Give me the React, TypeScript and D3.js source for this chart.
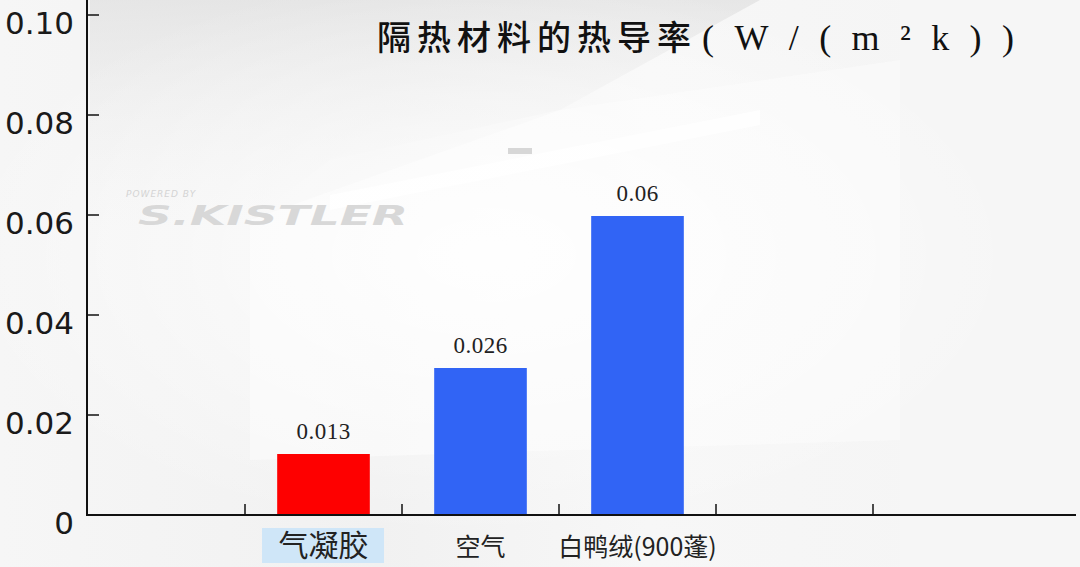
import React from "react";
import * as d3 from "d3";

const categories = ["气凝胶", "空气", "白鸭绒(900蓬)"];
const values = [0.0122, 0.0294, 0.0598];
const valueLabels = ["0.013", "0.026", "0.06"];
const barColors = ["#fe0000", "#3164f5", "#3164f5"];
const slots = ["slot0", ...categories, "slot4", "slot5"];
const yTicks = [0, 0.02, 0.04, 0.06, 0.08, 0.1];
const yTickLabels = ["0", "0.02", "0.04", "0.06", "0.08", "0.10"];
const title = "隔热材料的热导率";
const titleUnit = "(W/(m²k))";

const W = 1080;
const H = 567;

export default function App() {
  const y = d3.scaleLinear().domain([0, 0.1]).range([515, 15]);
  const x = d3
    .scaleBand<string>()
    .domain(slots)
    .range([88, 1030])
    .paddingInner(0.41)
    .paddingOuter(0.205);
  const step = x.step();
  const boundaries = d3.range(1, slots.length).map((i) => 88 + i * step);
  const axisY = y(0);
  const axisX = 87;

  return (
    <svg
      width={W}
      height={H}
      style={{ position: "absolute", left: 0, top: 0 }}
      xmlns="http://www.w3.org/2000/svg"
    >
      <defs>
        <linearGradient id="bg" x1="0" y1="0" x2="1" y2="0">
          <stop offset="0" stopColor="#f6f6f6" />
          <stop offset="0.35" stopColor="#f1f1f1" />
          <stop offset="0.6" stopColor="#f7f7f7" />
          <stop offset="1" stopColor="#f4f4f4" />
        </linearGradient>
        <radialGradient id="glow" cx="0.45" cy="0.45" r="0.5">
          <stop offset="0" stopColor="#ffffff" stopOpacity="0.9" />
          <stop offset="1" stopColor="#ffffff" stopOpacity="0" />
        </radialGradient>
        <linearGradient id="topShade" x1="0" y1="0" x2="0" y2="1">
          <stop offset="0" stopColor="#dcdcdc" />
          <stop offset="1" stopColor="#eeeeee" stopOpacity="0" />
        </linearGradient>
      </defs>
      <rect x={0} y={0} width={W} height={H} fill="url(#bg)" />
      <polygon points="90,0 760,0 560,110 330,160 250,220 90,230" fill="url(#topShade)" opacity={0.6} />
      <polygon points="250,220 560,110 900,60 900,440 250,460" fill="#fbfbfb" opacity={0.6} />
      <polygon points="330,195 760,110 760,125 330,210" fill="#ffffff" opacity={0.8} />
      <polygon points="900,0 1080,0 1080,567 900,567" fill="#f6f6f6" opacity={0.6} />
      <rect x={0} y={0} width={W} height={H} fill="url(#glow)" />
      <rect x={508} y={148} width={24} height={6} fill="#c8c8c8" opacity={0.7} />

      {/* watermark */}
      <text x={126} y={197} fontFamily="DejaVu Sans" fontStyle="italic" fontSize={9} fill="#d4d4d4" letterSpacing={1}>
        POWERED BY
      </text>
      <text
        x={138}
        y={225}
        fontFamily="DejaVu Sans"
        fontStyle="italic"
        fontWeight="bold"
        fontSize={26}
        fill="#d8d8d8"
        textLength={270}
        lengthAdjust="spacingAndGlyphs"
      >
        S.KISTLER
      </text>

      {/* title */}
      <text x={377} y={50} fontFamily="Noto Sans CJK SC" fontWeight={500} fontSize={34} fill="#111" letterSpacing={6}>
        {title}
      </text>
      <text
        x={702}
        y={50}
        fontFamily="Liberation Serif"
        fontSize={36}
        fill="#111"
        textLength={312}
        lengthAdjust="spacing"
      >
        {titleUnit}
      </text>

      {/* bars */}
      {categories.map((c, i) => (
        <rect
          key={c}
          x={x(c)}
          y={y(values[i])}
          width={x.bandwidth()}
          height={axisY - y(values[i])}
          fill={barColors[i]}
        />
      ))}
      {categories.map((c, i) => (
        <text
          key={"v" + c}
          x={(x(c) as number) + x.bandwidth() / 2}
          y={y(values[i]) - 15}
          textAnchor="middle"
          fontFamily="Liberation Serif"
          fontSize={23}
          fill="#222"
          letterSpacing={0.5}
        >
          {valueLabels[i]}
        </text>
      ))}

      {/* y axis */}
      <line x1={axisX} x2={axisX} y1={0} y2={axisY + 1} stroke="#111" strokeWidth={2} />
      {yTicks.map((t, i) => (
        <g key={"yt" + i}>
          <line x1={axisX} x2={axisX + 12} y1={y(t)} y2={y(t)} stroke="#111" strokeWidth={1.5} />
          <text
            x={74}
            y={y(t) + 19}
            textAnchor="end"
            fontFamily="DejaVu Sans"
            fontSize={31}
            fill="#1a1a1a"
          >
            {yTickLabels[i]}
          </text>
        </g>
      ))}

      {/* x axis */}
      <line x1={axisX - 1} x2={1076} y1={axisY} y2={axisY} stroke="#111" strokeWidth={2} />
      {boundaries.map((b, i) => (
        <line key={"xt" + i} x1={b} x2={b} y1={axisY} y2={axisY - 11} stroke="#111" strokeWidth={1.5} />
      ))}

      {/* category labels */}
      <rect x={262} y={528} width={122} height={35} fill="#cfe6f8" />
      <text
        x={(x(categories[0]) as number) + x.bandwidth() / 2}
        y={556}
        textAnchor="middle"
        fontFamily="Noto Sans CJK SC"
        fontSize={30}
        fill="#222"
      >
        {categories[0]}
      </text>
      {categories.slice(1).map((c) => (
        <text
          key={"c" + c}
          x={(x(c) as number) + x.bandwidth() / 2}
          y={556}
          textAnchor="middle"
          fontFamily="Noto Sans CJK SC"
          fontSize={25}
          fill="#222"
        >
          {c}
        </text>
      ))}
    </svg>
  );
}
